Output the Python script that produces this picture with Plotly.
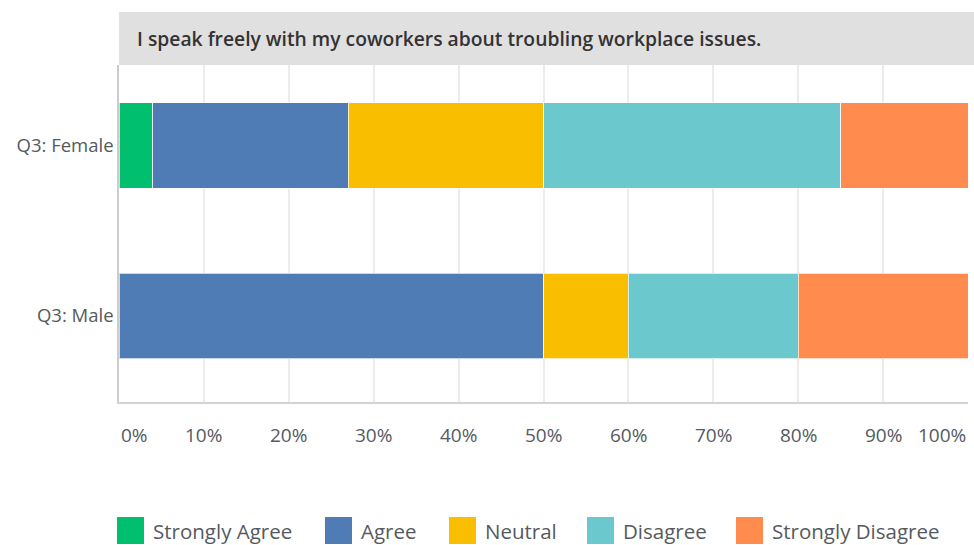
import plotly.graph_objects as go

# ---- data ----
categories = ["Q3: Female", "Q3: Male"]
series_names = ["Strongly Agree", "Agree", "Neutral", "Disagree", "Strongly Disagree"]
female_values = [4, 23, 23, 35, 15]
male_values = [0, 50, 10, 20, 20]
tick_values = [0, 10, 20, 30, 40, 50, 60, 70, 80, 90, 100]
tick_labels = ["0%", "10%", "20%", "30%", "40%", "50%", "60%", "70%", "80%", "90%", "100%"]
title_text = "I speak freely with my coworkers about troubling workplace issues."

# ---- style ----
colors = ["#00bf6f", "#507cb6", "#f9be00", "#6bc8cd", "#ff8b4f"]
FONT = "Open Sans"
TXT = "#555a60"

W, H = 974, 545
ML, MR, MT, MB = 119, 6, 65, 143
PW, PH = W - ML - MR, H - MT - MB

fig = go.Figure()
for i, name in enumerate(series_names):
    fig.add_trace(go.Bar(
        y=categories, x=[female_values[i], male_values[i]], name=name,
        orientation="h", marker=dict(color=colors[i], line=dict(color="rgba(255,255,255,0.7)", width=1)),
        width=0.5, showlegend=False,
    ))

def px_x(px):
    return (px - ML) / PW

def px_y(py):
    return (H - MB - py) / PH

shapes = []
annotations = []

# title bar
shapes.append(dict(type="rect", xref="paper", yref="paper", x0=0, x1=px_x(976),
                   y0=1, y1=px_y(12), fillcolor="#e0e0e0", line=dict(width=0), layer="below"))
annotations.append(dict(xref="paper", yref="paper", x=px_x(135), y=px_y(38), text=title_text,
                        showarrow=False, xanchor="left", yanchor="middle",
                        font=dict(family=FONT, size=19.3, color="#333333", weight=600)))

# x tick labels along the axis scale
for v, t in zip(tick_values, tick_labels):
    anchor = "left" if v == tick_values[0] else ("right" if v == tick_values[-1] else "center")
    annotations.append(dict(xref="x", yref="paper", x=v, y=px_y(435), text=t, showarrow=False,
                            xanchor=anchor, yanchor="middle", font=dict(family=FONT, size=19, color=TXT)))

# legend
legend_x = [117, 325, 449, 587, 736]
for i, name in enumerate(series_names):
    x0 = legend_x[i]
    shapes.append(dict(type="rect", xref="paper", yref="paper", x0=px_x(x0), x1=px_x(x0 + 27),
                       y0=px_y(544), y1=px_y(517), fillcolor=colors[i], line=dict(width=0)))
    annotations.append(dict(xref="paper", yref="paper", x=px_x(x0 + 34), y=px_y(531), text=name,
                            showarrow=False, xanchor="left", yanchor="middle",
                            font=dict(family=FONT, size=20.5, color=TXT)))

fig.update_layout(
    width=W, height=H,
    margin=dict(l=ML, r=MR, t=MT, b=MB),
    barmode="stack",
    plot_bgcolor="white", paper_bgcolor="white",
    shapes=shapes, annotations=annotations,
    xaxis=dict(range=[0, 100], tickvals=tick_values, showticklabels=False, showgrid=True,
               gridcolor="#ececec", gridwidth=1.5, zeroline=False, showline=True,
               linecolor="#d3d3d3", linewidth=1.5, fixedrange=True),
    yaxis=dict(range=[1.505, -0.472], showgrid=False, zeroline=False, showline=True,
               linecolor="#cccccc", linewidth=1.5, ticks="", ticklen=0,
               tickfont=dict(family=FONT, size=18.5, color=TXT)),
    showlegend=False,
)

fig.write_html("out.html")
